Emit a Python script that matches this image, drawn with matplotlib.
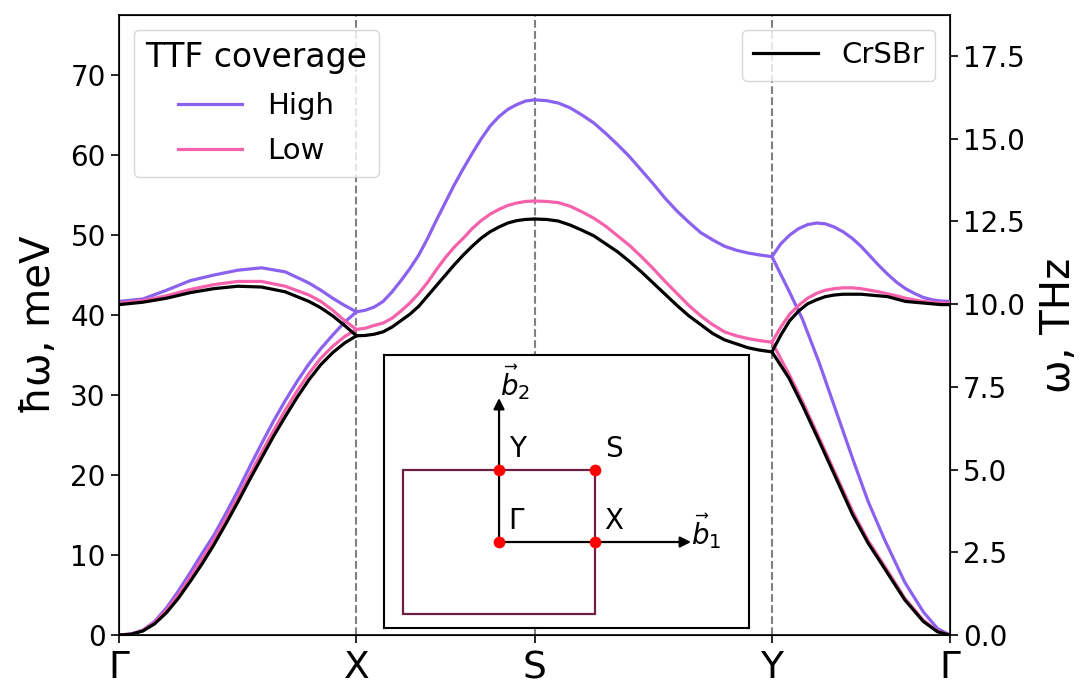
import numpy as np
import matplotlib
matplotlib.use("Agg")
import matplotlib.pyplot as plt
from matplotlib.patches import Rectangle

# ---------------- data ----------------
# high-symmetry path Γ-X-S-Y-Γ, segment lengths in units of |ΓX|
seg_names = ["Γ", "X", "S", "Y", "Γ"]
seg_len = [1.0, 0.75, 1.0, 0.75]
MEV_PER_THZ = 4.1357

# fractional position along a segment, sampled every 5 %
t20 = [round(0.05 * i, 2) for i in range(21)]

# Γ-X, lower (acoustic) branch
gx_low_high = [0, 0.12, 0.6, 1.7, 3.4, 5.5, 7.8, 10.2, 12.5, 15.2, 18.0, 21.0, 23.9,
               26.7, 29.3, 31.7, 33.9, 35.8, 37.5, 39.1, 40.4]
gx_low_low = [0, 0.11, 0.55, 1.55, 3.1, 5.0, 7.2, 9.5, 11.9, 14.5, 17.2, 20.0, 22.8,
              25.5, 28.1, 30.5, 32.7, 34.6, 36.1, 37.3, 38.2]
gx_low_bulk = [0, 0.1, 0.5, 1.4, 2.8, 4.6, 6.7, 8.9, 11.3, 13.9, 16.6, 19.4, 22.1,
               24.8, 27.3, 29.7, 31.9, 33.8, 35.3, 36.5, 37.4]

# Γ-X, upper (optical) branch
gx_up_t = [0, 0.1, 0.2, 0.3, 0.4, 0.5, 0.6, 0.7, 0.8, 0.85, 0.9, 0.95, 1.0]
gx_up_high = [41.7, 42.0, 43.1, 44.3, 45.0, 45.6, 45.9, 45.4, 44.0, 43.1, 42.1, 41.2, 40.4]
gx_up_low = [41.5, 41.8, 42.4, 43.2, 43.8, 44.2, 44.2, 43.6, 42.5, 41.7, 40.6, 39.3, 38.2]
gx_up_bulk = [41.3, 41.6, 42.1, 42.8, 43.3, 43.6, 43.5, 42.9, 41.7, 40.9, 39.9, 38.7, 37.4]

# X-S
xs_high = [40.4, 40.6, 41.0, 41.7, 42.9, 44.3, 45.8, 47.5, 49.6, 51.9, 54.1, 56.3, 58.3,
           60.2, 62.0, 63.6, 64.8, 65.7, 66.3, 66.75, 66.9]
xs_low = [38.2, 38.35, 38.7, 39.0, 39.6, 40.5, 41.5, 42.7, 44.1, 45.7, 47.2, 48.5, 49.6,
          50.8, 51.8, 52.6, 53.2, 53.7, 54.0, 54.2, 54.25]
xs_bulk = [37.4, 37.45, 37.6, 37.9, 38.5, 39.3, 40.1, 41.1, 42.4, 43.7, 45.0, 46.3, 47.5,
           48.6, 49.6, 50.4, 51.0, 51.5, 51.8, 51.95, 52.0]

# S-Y
sy_high = [66.9, 66.8, 66.5, 65.9, 65.0, 64.0, 62.7, 61.3, 59.8, 58.1, 56.4, 54.6, 53.0,
           51.6, 50.3, 49.4, 48.6, 48.1, 47.75, 47.5, 47.3]
sy_low = [54.25, 54.2, 54.05, 53.6, 52.9, 52.1, 51.1, 49.9, 48.7, 47.3, 45.8, 44.2, 42.7,
          41.2, 39.9, 38.8, 37.9, 37.4, 37.05, 36.8, 36.6]
sy_bulk = [52.0, 51.95, 51.75, 51.25, 50.6, 49.9, 48.9, 47.9, 46.7, 45.4, 44.0, 42.6, 41.2,
           39.9, 38.8, 37.7, 36.9, 36.4, 35.9, 35.6, 35.4]

# Y-Γ, upper branch
yg_up_high = [47.3, 48.9, 50.0, 50.8, 51.3, 51.5, 51.4, 51.0, 50.4, 49.6, 48.6, 47.4, 46.2,
              45.1, 44.1, 43.3, 42.7, 42.2, 41.9, 41.75, 41.7]
yg_up_low = [36.6, 38.5, 40.1, 41.2, 42.1, 42.7, 43.1, 43.3, 43.4, 43.4, 43.3, 43.1, 42.9,
             42.65, 42.4, 42.1, 41.9, 41.7, 41.6, 41.5, 41.5]
yg_up_bulk = [35.4, 37.5, 39.3, 40.5, 41.4, 41.9, 42.3, 42.5, 42.6, 42.6, 42.6, 42.5, 42.4,
              42.3, 42.0, 41.7, 41.6, 41.5, 41.4, 41.3, 41.3]

# Y-Γ, lower branch
yg_low_t = [0, 0.096, 0.171, 0.266, 0.36, 0.454, 0.54, 0.633, 0.746, 0.85, 0.93, 1.0]
yg_low_high = [47.3, 43.0, 39.5, 34.0, 28.0, 22.0, 16.7, 11.9, 6.6, 2.9, 0.8, 0]
yg_low_low = [36.6, 32.6, 29.2, 24.6, 20.0, 15.4, 11.8, 8.6, 4.6, 1.85, 0.45, 0]
yg_low_bulk = [35.4, 32.1, 28.75, 24.2, 19.6, 15.0, 11.5, 8.3, 4.4, 1.7, 0.4, 0]

# Brillouin zone (inset), reciprocal units of |ΓX|
bz_points = {"Γ": (0.0, 0.0), "X": (1.0, 0.0), "Y": (0.0, 0.75), "S": (1.0, 0.75)}

# ---------------- styles ----------------
C_HIGH = "#8b61ef"
C_LOW = "#f562ab"
C_BULK = "black"
LW = 2.3

plt.rcParams["font.family"] = ["DejaVu Sans"]

fig = plt.figure(figsize=(10.83, 6.86), dpi=100)
ax = fig.add_axes([0.1099, 0.0743, 0.7673, 0.9038])

starts = np.concatenate([[0.0], np.cumsum(seg_len)])


def kpos(seg, t):
    return starts[seg] + np.asarray(t) * seg_len[seg]


series = [
    (C_HIGH, [(0, t20, gx_low_high), (0, gx_up_t, gx_up_high), (1, t20, xs_high),
              (2, t20, sy_high), (3, t20, yg_up_high), (3, yg_low_t, yg_low_high)]),
    (C_LOW, [(0, t20, gx_low_low), (0, gx_up_t, gx_up_low), (1, t20, xs_low),
             (2, t20, sy_low), (3, t20, yg_up_low), (3, yg_low_t, yg_low_low)]),
    (C_BULK, [(0, t20, gx_low_bulk), (0, gx_up_t, gx_up_bulk), (1, t20, xs_bulk),
              (2, t20, sy_bulk), (3, t20, yg_up_bulk), (3, yg_low_t, yg_low_bulk)]),
]

for k in starts[1:-1]:
    ax.axvline(k, color="gray", ls="--", lw=1.5, zorder=1)

for color, parts in series:
    for seg, t, vals in parts:
        ax.plot(kpos(seg, t), vals, color=color, lw=LW, zorder=3,
                solid_joinstyle="round", solid_capstyle="round")

ax.set_xlim(starts[0], starts[-1])
ax.set_ylim(0, 77.5)
ax.set_xticks(starts)
ax.set_xticklabels(seg_names, fontsize=27)
ax.set_yticks(np.arange(0, 71, 10))
ax.tick_params(axis="y", labelsize=20, length=6, width=1.2)
ax.tick_params(axis="x", length=6, width=1.2, pad=5)
ax.set_ylabel("ħω, meV", fontsize=29, labelpad=8)
for s in ax.spines.values():
    s.set_linewidth(1.2)

ax2 = ax.twinx()
ax2.set_ylim(0, 77.5 / MEV_PER_THZ)
ax2.set_yticks(np.arange(0, 17.6, 2.5))
ax2.tick_params(axis="y", labelsize=20, length=6, width=1.2)
ax2.set_ylabel("ω, THz", fontsize=29, labelpad=10)

h_high, = ax.plot([], [], color=C_HIGH, lw=LW, label="High")
h_low, = ax.plot([], [], color=C_LOW, lw=LW, label="Low")
h_bulk, = ax.plot([], [], color=C_BULK, lw=LW, label="CrSBr")
leg1 = ax2.legend(handles=[h_high, h_low], title="TTF coverage", loc="upper left",
                  fontsize=21, title_fontsize=23.7, handlelength=2.2,
                  handletextpad=0.85, labelspacing=0.6, borderpad=0.4)
ax2.add_artist(leg1)
ax2.legend(handles=[h_bulk], loc="upper right", fontsize=21, handlelength=2.2,
           borderpad=0.4)

# ---------------- inset: Brillouin zone ----------------
axi = fig.add_axes([0.3546, 0.0845, 0.337, 0.398])
axi.set_xlim(-1.198, 2.604)
axi.set_ylim(-0.896, 1.948)
axi.set_xticks([])
axi.set_yticks([])
for s in axi.spines.values():
    s.set_linewidth(1.5)

gx, gy = bz_points["Γ"]
xx, _ = bz_points["X"]
_, yy = bz_points["Y"]
axi.add_patch(Rectangle((gx - xx, gy - yy), 2 * xx, 2 * yy, fill=False,
                        edgecolor="#6e1f45", lw=1.6))
arrow = dict(arrowstyle="-|>", color="black", lw=1.6, mutation_scale=16,
             shrinkA=0, shrinkB=0)
axi.annotate("", xy=(2 * xx, gy), xytext=(gx, gy), arrowprops=arrow)
axi.annotate("", xy=(gx, 2 * yy), xytext=(gx, gy), arrowprops=arrow)
pts = np.array(list(bz_points.values()))
axi.scatter(pts[:, 0], pts[:, 1], s=55, color="red", zorder=5)
for name, (px, py) in bz_points.items():
    axi.text(px + 0.1, py + 0.22, name, fontsize=20, ha="left", va="center")
axi.text(2 * xx + 0.0, gy + 0.11, r"$\vec{b}_1$", fontsize=20, ha="left", va="center")
axi.text(gx + 0.17, 2 * yy + 0.17, r"$\vec{b}_2$", fontsize=20, ha="center", va="center")

fig.savefig("out.png", dpi=100)
